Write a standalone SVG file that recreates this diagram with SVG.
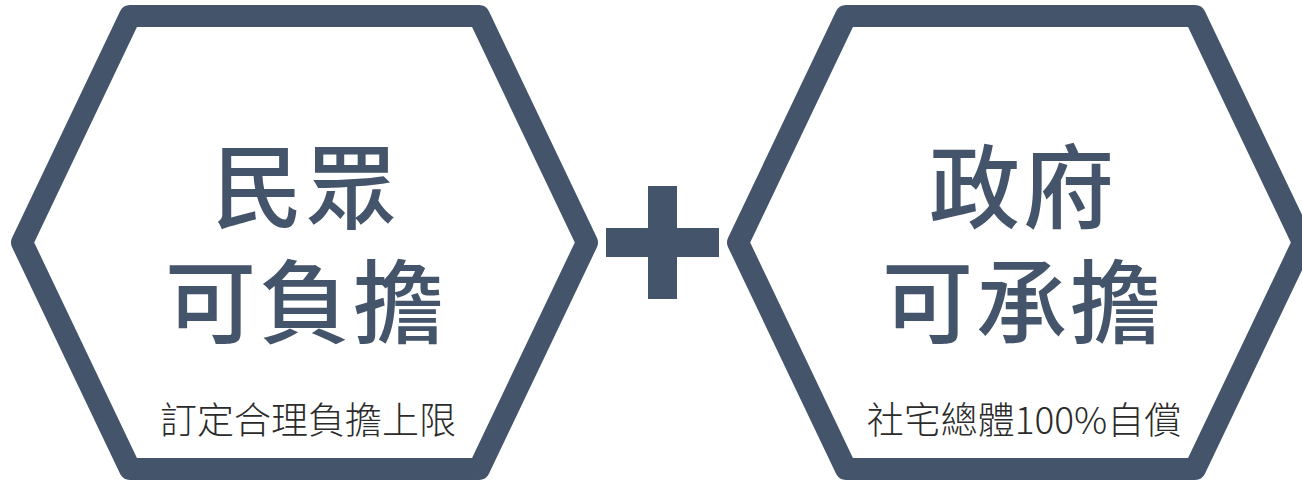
<svg xmlns="http://www.w3.org/2000/svg" width="1302" height="482" viewBox="0 0 1302 482">
<style>
.hex{fill:#ffffff;stroke:#44546A;stroke-width:22;stroke-linejoin:round}
.big{font-family:"Noto Sans CJK TC","Noto Sans CJK SC",sans-serif;font-weight:500;font-size:91px;fill:#44546A;text-anchor:middle;letter-spacing:3px}
.sub{font-family:"Noto Sans CJK TC","Noto Sans CJK SC",sans-serif;font-weight:300;font-size:37px;fill:#2b2b2b;text-anchor:middle}
</style>
<rect width="1302" height="482" fill="#ffffff"/>
<g id="node-left">
<polygon class="hex" points="22,242.5 130,16 479,16 587,242.5 479,469 130,469"/>
<text class="big"><tspan x="306" y="221">民眾</tspan><tspan x="306" y="336">可負擔</tspan></text>
<text class="sub" x="308" y="434">訂定合理負擔上限</text>
</g>
<g id="node-plus">
<path d="M606,228H648V186H677V228H719V257H677V299H648V257H606Z" fill="#44546A"/>
</g>
<g id="node-right">
<polygon class="hex" points="738,242.5 846,16 1195,16 1303,242.5 1195,469 846,469"/>
<text class="big"><tspan x="1023" y="221">政府</tspan><tspan x="1023" y="336">可承擔</tspan></text>
<text class="sub" x="1024" y="434">社宅總體100%自償</text>
</g>
<g id="connectors"></g>
</svg>
